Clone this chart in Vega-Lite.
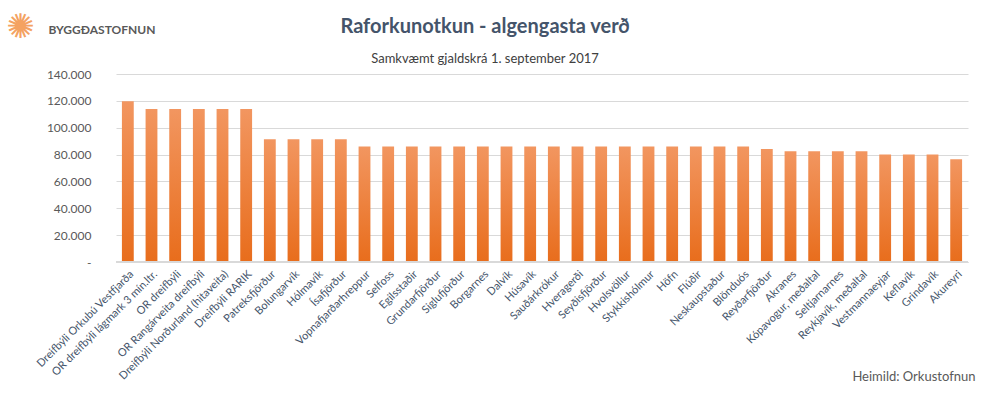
{
  "$schema": "https://vega.github.io/schema/vega-lite/v6.json",
  "width": 852,
  "height": 188,
  "autosize": "none",
  "padding": {"left": 116, "top": 74, "right": 19, "bottom": 134},
  "background": "white",
  "title": {
    "text": "Raforkunotkun - algengasta verð",
    "subtitle": "Samkvæmt gjaldskrá 1. september 2017",
    "anchor": "middle",
    "dx": -57,
    "dy": 62,
    "offset": 6,
    "font": "Lato",
    "fontSize": 20,
    "fontWeight": "bold",
    "color": "#44546A",
    "subtitleFont": "Lato",
    "subtitleFontSize": 13,
    "subtitleColor": "#404040",
    "subtitlePadding": 16
  },
  "data": {
    "values": [
      {"stadur": "Dreifbýli Orkubú Vestfjarða", "verd": 119800},
      {"stadur": "OR dreifbýli lágmark 3 mín.ltr.", "verd": 114000},
      {"stadur": "OR dreifbýli", "verd": 114000},
      {"stadur": "OR Rangárveita dreifbýli", "verd": 114000},
      {"stadur": "Dreifbýli Norðurland (hitaveita)", "verd": 114000},
      {"stadur": "Dreifbýli RARIK", "verd": 114000},
      {"stadur": "Patreksfjörður", "verd": 91500},
      {"stadur": "Bolungarvík", "verd": 91500},
      {"stadur": "Hólmavík", "verd": 91500},
      {"stadur": "Ísafjörður", "verd": 91500},
      {"stadur": "Vopnafjarðarhreppur", "verd": 86000},
      {"stadur": "Selfoss", "verd": 86000},
      {"stadur": "Egilsstaðir", "verd": 86000},
      {"stadur": "Grundarfjörður", "verd": 86000},
      {"stadur": "Siglufjörður", "verd": 86000},
      {"stadur": "Borgarnes", "verd": 86000},
      {"stadur": "Dalvík", "verd": 86000},
      {"stadur": "Húsavík", "verd": 86000},
      {"stadur": "Sauðárkrókur", "verd": 86000},
      {"stadur": "Hveragerði", "verd": 86000},
      {"stadur": "Seyðisfjörður", "verd": 86000},
      {"stadur": "Hvolsvöllur", "verd": 86000},
      {"stadur": "Stykkishólmur", "verd": 86000},
      {"stadur": "Höfn", "verd": 86000},
      {"stadur": "Flúðir", "verd": 86000},
      {"stadur": "Neskaupstaður", "verd": 86000},
      {"stadur": "Blönduós", "verd": 86000},
      {"stadur": "Reyðarfjörður", "verd": 84200},
      {"stadur": "Akranes", "verd": 82500},
      {"stadur": "Kópavogur, meðaltal", "verd": 82500},
      {"stadur": "Seltjarnarnes", "verd": 82500},
      {"stadur": "Reykjavík, meðaltal", "verd": 82500},
      {"stadur": "Vestmannaeyjar", "verd": 80000},
      {"stadur": "Keflavík", "verd": 80000},
      {"stadur": "Grindavík", "verd": 80000},
      {"stadur": "Akureyri", "verd": 76600}
    ]
  },
  "layer": [
    {
      "mark": {
        "type": "bar",
        "color": {
          "gradient": "linear",
          "x1": 0, "y1": 0, "x2": 0, "y2": 1,
          "stops": [
            {"offset": 0, "color": "#F29660"},
            {"offset": 1, "color": "#E86D1C"}
          ]
        }
      },
      "encoding": {
        "x": {
          "field": "stadur",
          "type": "nominal",
          "sort": null,
          "scale": {"paddingInner": 0.5, "paddingOuter": 0.25},
          "axis": {
            "title": "Heimild: Orkustofnun",
            "titleX": 859,
            "titleY": 118,
            "titleAlign": "right",
            "titleAnchor": null,
            "titleBaseline": "alphabetic",
            "titleFont": "Lato",
            "titleFontSize": 13,
            "titleFontWeight": "normal",
            "titleColor": "#595959",
            "labelAngle": -45,
            "labelFont": "Lato",
            "labelFontSize": 11,
            "labelColor": "#44546A",
            "labelPadding": 6,
            "labelOverlap": false,
            "ticks": false,
            "domain": true,
            "domainColor": "#D9D9D9",
            "domainWidth": 1
          }
        },
        "y": {
          "field": "verd",
          "type": "quantitative",
          "scale": {"domain": [0, 140000], "nice": false},
          "axis": {
            "title": "BYGGĐASTOFNUN",
            "titleAngle": 0,
            "titleX": -68,
            "titleY": -41,
            "titleAlign": "left",
            "titleBaseline": "alphabetic",
            "titleFont": "Lato",
            "titleFontSize": 12,
            "titleFontWeight": "bold",
            "titleColor": "#595959",
            "values": [0, 20000, 40000, 60000, 80000, 100000, 120000, 140000],
            "labelExpr": "datum.value === 0 ? '-' : replace(format(datum.value, ','), ',', '.')",
            "labelFont": "Lato",
            "labelFontSize": 12,
            "labelColor": "#595959",
            "labelPadding": 25,
            "ticks": false,
            "domain": false,
            "grid": true,
            "gridColor": "#D9D9D9",
            "gridWidth": 1
          }
        }
      }
    },
    {
      "mark": {"type": "rule", "color": "#D9D9D9"},
      "encoding": {
        "y": {
          "datum": 0,
          "type": "quantitative",
          "axis": {
            "orient": "right",
            "title": "✺",
            "titleAngle": 0,
            "titleX": -948,
            "titleY": -47,
            "titleAlign": "center",
            "titleBaseline": "middle",
            "titleFont": "DejaVu Sans",
            "titleFontSize": 34,
            "titleFontWeight": "normal",
            "titleColor": "#F4A261",
            "labels": false,
            "ticks": false,
            "domain": false,
            "grid": false
          }
        }
      }
    }
  ],
  "resolve": {"axis": {"y": "independent"}},
  "config": {
    "view": {"stroke": null}
  }
}
